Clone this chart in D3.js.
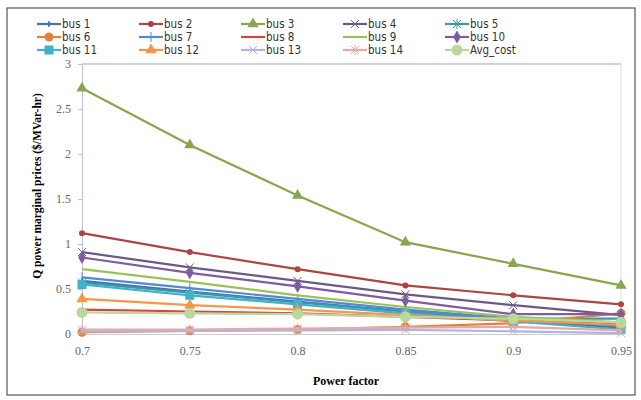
<!DOCTYPE html>
<html><head><meta charset="utf-8">
<script src="https://cdn.jsdelivr.net/npm/d3@7"></script>
<style>
body{margin:0;background:#fff;}
svg{display:block;}
</style></head><body>
<svg id="chart" width="641" height="400"></svg>
<script>
const powerFactors = [0.7, 0.75, 0.8, 0.85, 0.9, 0.95];
const xTickLabels = ["0.7", "0.75", "0.8", "0.85", "0.9", "0.95"];
const yTicks = [0, 0.5, 1, 1.5, 2, 2.5, 3];
const seriesNames = ["bus 1","bus 2","bus 3","bus 4","bus 5","bus 6","bus 7","bus 8","bus 9","bus 10","bus 11","bus 12","bus 13","bus 14","Avg_cost"];
const bus1  = [0.59, 0.47, 0.36, 0.25, 0.15, 0.07];
const bus2  = [1.12, 0.91, 0.72, 0.54, 0.43, 0.33];
const bus3  = [2.73, 2.10, 1.54, 1.02, 0.78, 0.54];
const bus4  = [0.91, 0.74, 0.59, 0.44, 0.32, 0.21];
const bus5  = [0.57, 0.46, 0.35, 0.25, 0.17, 0.17];
const bus6  = [0.02, 0.035, 0.05, 0.08, 0.12, 0.23];
const bus7  = [0.63, 0.51, 0.39, 0.27, 0.17, 0.09];
const bus8  = [0.27, 0.25, 0.23, 0.19, 0.15, 0.11];
const bus9  = [0.72, 0.58, 0.43, 0.30, 0.19, 0.13];
const bus10 = [0.85, 0.68, 0.53, 0.37, 0.22, 0.22];
const bus11 = [0.55, 0.43, 0.33, 0.23, 0.14, 0.05];
const bus12 = [0.39, 0.32, 0.27, 0.21, 0.15, 0.10];
const bus13 = [0.03, 0.035, 0.04, 0.045, 0.03, 0.01];
const bus14 = [0.05, 0.05, 0.06, 0.07, 0.08, 0.04];
const avgCost = [0.24, 0.23, 0.22, 0.19, 0.17, 0.13];
const seriesValues = [bus1,bus2,bus3,bus4,bus5,bus6,bus7,bus8,bus9,bus10,bus11,bus12,bus13,bus14,avgCost];
const seriesColors = ["#4572A7","#AA4643","#89A54E","#6B5A86","#3D96AE","#DB843D","#4F8AD6","#D9433F","#9BC25A","#7E5CA0","#3FB2C8","#F79646","#AEB4E4","#E8A8A8","#B9D89E"];
const seriesMarkers = ["diamondS","circleS","triangle","x","star","circle","plus","none","none","diamond","square","triangle","x","star","circleL"];

const svg = d3.select("#chart");
// outer frame
svg.append("rect").attr("x",7).attr("y",8).attr("width",628).attr("height",387)
  .attr("fill","none").attr("stroke","#555").attr("stroke-width",1.2);

const x = d3.scalePoint().domain(powerFactors).range([82, 621]);
const y = d3.scaleLinear().domain([0,3]).range([334, 64]);

// top gridline & right border of plot area
svg.append("line").attr("x1",82).attr("x2",621).attr("y1",y(3)).attr("y2",y(3)).attr("stroke","#8FA9C8").attr("stroke-width",1);
svg.append("line").attr("x1",621).attr("x2",621).attr("y1",y(3)).attr("y2",y(0)).attr("stroke","#ddd").attr("stroke-width",1);

// y axis
const yAxis = svg.append("g").attr("transform","translate(82,0)")
  .call(d3.axisLeft(y).tickValues(yTicks).tickFormat(d3.format("")).tickSize(4).tickPadding(7));
yAxis.select(".domain").attr("stroke","#B8C4D8");
yAxis.selectAll(".tick line").attr("stroke","#B8C4D8");
yAxis.selectAll("text").attr("font-family","Liberation Serif, serif").attr("font-size",12).attr("fill","#666");

// x axis
const xAxis = svg.append("g").attr("transform","translate(0,334)")
  .call(d3.axisBottom(x).tickFormat((d,i)=>xTickLabels[i]).tickSize(0).tickPadding(12));
xAxis.select(".domain").attr("stroke","#ccc");
xAxis.selectAll("text").attr("font-family","Liberation Serif, serif").attr("font-size",12).attr("fill","#666");

// axis titles
svg.append("text").attr("x",346).attr("y",385).attr("text-anchor","middle")
  .attr("font-family","Liberation Serif, serif").attr("font-weight","bold").attr("font-size",12).text("Power factor");
svg.append("text").attr("transform","translate(41,186) rotate(-90)").attr("text-anchor","middle")
  .attr("font-family","Liberation Serif, serif").attr("font-weight","bold").attr("font-size",11.5).text("Q power marginal prices ($/MVar-hr)");

function drawMarker(g, type, color, cx, cy) {
  switch(type) {
    case "circle": g.append("circle").attr("cx",cx).attr("cy",cy).attr("r",4.5).attr("fill",color); break;
    case "circleL": g.append("circle").attr("cx",cx).attr("cy",cy).attr("r",5.5).attr("fill",color); break;
    case "circleS": g.append("circle").attr("cx",cx).attr("cy",cy).attr("r",3).attr("fill",color); break;
    case "triangle": g.append("path").attr("d",d3.symbol(d3.symbolTriangle,55)()).attr("transform",`translate(${cx},${cy})`).attr("fill",color); break;
    case "diamond": g.append("path").attr("d",d3.symbol(d3.symbolDiamond,50)()).attr("transform",`translate(${cx},${cy})`).attr("fill",color); break;
    case "diamondS": g.append("path").attr("d",d3.symbol(d3.symbolDiamond,14)()).attr("transform",`translate(${cx},${cy})`).attr("fill",color); break;
    case "square": g.append("rect").attr("x",cx-4.5).attr("y",cy-4.5).attr("width",9).attr("height",9).attr("fill",color); break;
    case "x": g.append("path").attr("d",`M${cx-4},${cy-4}L${cx+4},${cy+4}M${cx-4},${cy+4}L${cx+4},${cy-4}`).attr("stroke",color).attr("stroke-width",1); break;
    case "star": g.append("path").attr("d",`M${cx-4},${cy-4}L${cx+4},${cy+4}M${cx-4},${cy+4}L${cx+4},${cy-4}M${cx},${cy-5}L${cx},${cy+5}`).attr("stroke",color).attr("stroke-width",1); break;
    case "plus": g.append("path").attr("d",`M${cx},${cy-5}L${cx},${cy+5}`).attr("stroke",color).attr("stroke-width",1); break;
  }
}

const line = d3.line().x((d,i)=>x(powerFactors[i])).y(d=>y(d));
seriesValues.forEach((vals, s) => {
  const g = svg.append("g");
  g.append("path").datum(vals).attr("d", line).attr("fill","none")
    .attr("stroke", seriesColors[s]).attr("stroke-width", 2.2);
  vals.forEach((v,i)=> drawMarker(g, seriesMarkers[s], seriesColors[s], x(powerFactors[i]), y(v)));
});

// legend
const legCols = [37, 139, 241, 343, 445];
const legRows = [24, 37, 50];
seriesNames.forEach((name, s) => {
  const cx = legCols[s % 5], cy = legRows[Math.floor(s / 5)];
  const g = svg.append("g");
  g.append("line").attr("x1",cx).attr("x2",cx+24).attr("y1",cy).attr("y2",cy).attr("stroke",seriesColors[s]).attr("stroke-width",2.2);
  drawMarker(g, seriesMarkers[s], seriesColors[s], cx+12, cy);
  g.append("text").attr("x",cx+25).attr("y",cy+4).attr("font-family","DejaVu Sans Condensed, Liberation Sans Narrow, sans-serif")
    .attr("font-stretch","condensed").attr("font-size",11.5).attr("fill","#333").text(name);
});
</script>
</body></html>
